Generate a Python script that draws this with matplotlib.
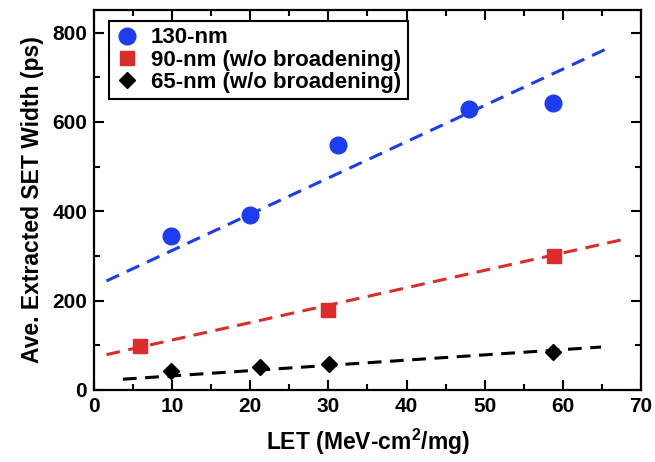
import numpy as np
import matplotlib
matplotlib.use('Agg')
import matplotlib.pyplot as plt
from matplotlib.ticker import MultipleLocator

plt.rcParams['font.family'] = ['Liberation Sans', 'DejaVu Sans']
plt.rcParams['font.weight'] = 'bold'
plt.rcParams['mathtext.fontset'] = 'custom'
plt.rcParams['mathtext.rm'] = 'Liberation Sans'
plt.rcParams['mathtext.bf'] = 'Liberation Sans:bold'

# data
let_130 = [9.9, 20.0, 31.2, 48.0, 58.7]
width_130 = [344, 392, 548, 628, 643]
let_90 = [5.9, 30.0, 58.9]
width_90 = [98, 178, 299]
let_65 = [9.9, 21.3, 30.1, 58.7]
width_65 = [42, 52, 59, 84]

# dashed trend lines (end points)
fit_x_130 = [1.6, 65.8]
fit_y_130 = [244, 765]
fit_x_90 = [1.6, 68.3]
fit_y_90 = [79, 339]
fit_x_65 = [3.7, 64.9]
fit_y_65 = [24, 96]

labels = ['130-nm', '90-nm (w/o broadening)', '65-nm (w/o broadening)']
blue = '#1c3cf0'
red = '#dc2c2c'
black = '#000000'

fig = plt.figure(figsize=(6.55, 4.62), dpi=100)
ax = fig.add_axes([0.1435, 0.156, 0.835, 0.822])

dash = (0, (4.5, 2.8))
ax.plot(fit_x_130, fit_y_130, color=blue, lw=2.2, linestyle=dash)
ax.plot(fit_x_90, fit_y_90, color=red, lw=2.2, linestyle=dash)
ax.plot(fit_x_65, fit_y_65, color=black, lw=2.2, linestyle=dash)

ax.plot(let_130, width_130, 'o', color=blue, ms=12, label=labels[0])
ax.plot(let_90, width_90, 's', color=red, ms=10.5, label=labels[1])
ax.plot(let_65, width_65, 'D', color=black, ms=8.5, label=labels[2])

ax.set_xlim(0, 70)
ax.set_ylim(0, 850)
ax.xaxis.set_major_locator(MultipleLocator(10))
ax.xaxis.set_minor_locator(MultipleLocator(5))
ax.yaxis.set_major_locator(MultipleLocator(200))
ax.yaxis.set_minor_locator(MultipleLocator(100))
ax.tick_params(which='both', direction='in', top=True, right=True,
               width=1.5, labelsize=15, pad=5)
ax.tick_params(which='major', length=7)
ax.tick_params(which='minor', length=4)
for sp in ax.spines.values():
    sp.set_linewidth(1.6)

ax.set_xlabel(r'LET (MeV-cm$^\mathbf{2}$/mg)', fontsize=16.5, fontweight='bold', labelpad=8)
ax.set_ylabel('Ave. Extracted SET Width (ps)', fontsize=16.5, fontweight='bold', labelpad=6)

leg = ax.legend(loc='upper left', bbox_to_anchor=(0.027, 0.972), borderaxespad=0,
                fancybox=False, edgecolor='black', framealpha=1,
                handlelength=1.0, handletextpad=0.6, labelspacing=0.05,
                borderpad=0.3, prop={'weight': 'bold', 'size': 16})
leg.get_frame().set_linewidth(1.5)

fig.savefig('out.png', dpi=100)
